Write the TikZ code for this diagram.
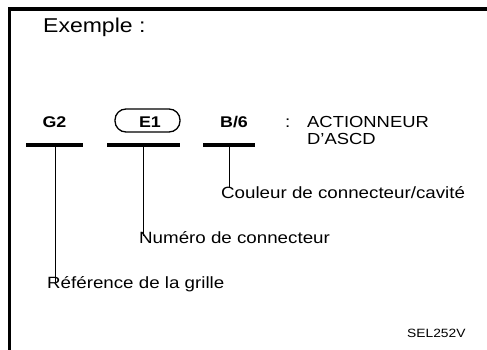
\documentclass[tikz,border=0pt]{standalone}
\usepackage{fontspec}
\setmainfont{Liberation Sans}[FakeStretch=1.15]
\begin{document}
\begin{tikzpicture}[x=1pt, y=-1pt,
  lbl/.style={anchor=base west, inner sep=0pt, font=\fontsize{16.3}{19}\selectfont},
  code/.style={anchor=base, inner sep=0pt, font=\fontsize{15.5}{18}\selectfont\bfseries},
  bar/.style={fill=black, inner sep=0pt, minimum height=3.5pt},
  leader/.style={line width=0.8pt}]
\useasboundingbox (0,0) rectangle (487,350);
% frame
\draw[line width=3.6pt] (9.3,350) -- (9.3,9) -- (487,9);
\node[anchor=base west, inner sep=0pt, font=\fontsize{20}{24}\selectfont] (title) at (43,33) {Exemple :};

\node[code] (g2) at (54.5,128) {G2};
\node[code] (e1) at (150,128) {E1};
\node[code] (b6) at (234,128) {B/6};
\draw[line width=1.3pt, rounded corners=11pt] (115,109) rectangle (180,132);
\node[lbl] (colon) at (285,128) {:};
\node[lbl, font=\fontsize{16}{16}\selectfont] (act) at (307,128) {ACTIONNEUR};
\node[lbl, font=\fontsize{16}{16}\selectfont] (ascd) at (307,144) {D'ASCD};

\node[bar, minimum width=57pt] (g2bar) at (54.5,145) {};
\node[bar, minimum width=73pt] (e1bar) at (143.5,145) {};
\node[bar, minimum width=52pt] (b6bar) at (229,145) {};

\node[lbl] (cav) at (221,198) {Couleur de connecteur/cavité};
\node[lbl] (num) at (139,243) {Numéro de connecteur};
\node[lbl] (ref) at (47,288) {Référence de la grille};
\node[anchor=base west, inner sep=0pt, font=\fontsize{12}{14}\selectfont] (sel) at (407,337) {SEL252V};

\draw[leader] (b6bar.south) -- ([yshift=-2pt]b6bar.south |- cav.north);
\draw[leader] (e1bar.south) -- ([yshift=-5pt]e1bar.south |- num.north);
\draw[leader] ([xshift=0.5pt]g2bar.south) -- ([xshift=0.5pt, yshift=-6pt]g2bar.south |- ref.north);
\end{tikzpicture}
\end{document}
